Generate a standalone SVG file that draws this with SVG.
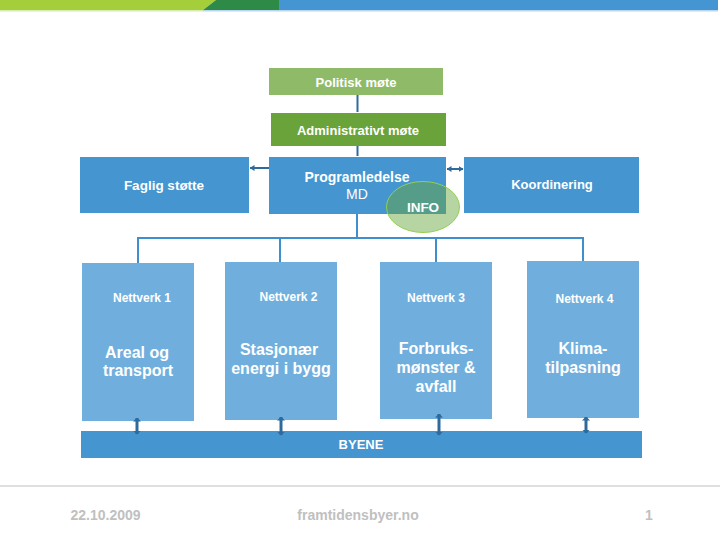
<svg xmlns="http://www.w3.org/2000/svg" width="720" height="540" viewBox="0 0 720 540">
<style>
text{font-family:"Liberation Sans",Arial,sans-serif;fill:#fff;text-anchor:middle}
.b{font-weight:bold}
.blue{fill:#4595d0}
.nw{fill:#70afdd}
.dist{stroke:#3f8fcf;stroke-width:2;fill:none}
.arr{stroke:#2e6a9c;fill:none}
.foot{fill:#c0c0c0;font-weight:bold;font-size:14px}
</style>
<defs>
<marker id="ah" viewBox="0 0 4 8" refX="3.5" refY="4" markerWidth="4" markerHeight="8" markerUnits="userSpaceOnUse" orient="auto-start-reverse">
<path d="M0,0 L4,4 L0,8 z" fill="#2e6a9c"/>
</marker>
<marker id="ahs" viewBox="0 0 5 6" refX="4.5" refY="3" markerWidth="5" markerHeight="6" markerUnits="userSpaceOnUse" orient="auto-start-reverse">
<path d="M0,0 L5,3 L0,6 z" fill="#2e6a9c"/>
</marker>
</defs>
<rect width="720" height="540" fill="#fff"/>
<g id="topbar">
<polygon points="0,0 216,0 203,10 0,10" fill="#a5cf3a"/>
<polygon points="216,0 279,0 279,10 203,10" fill="#2e8b47"/>
<rect x="279" y="0" width="439" height="10" fill="#4495d1"/>
<rect x="0" y="10" width="203" height="1.5" fill="#d6ebb0"/>
<rect x="203" y="10" width="515" height="1.5" fill="#b8d6ee"/>
</g>
<g id="politisk">
<rect x="269" y="68" width="174" height="27" fill="#8fbb68"/>
<text class="b" x="356" y="86.5" font-size="13">Politisk møte</text>
</g>
<g id="administrativt">
<rect x="271" y="113" width="175" height="33" fill="#6aa33a"/>
<text class="b" x="358" y="134.5" font-size="13">Administrativt møte</text>
</g>
<g id="faglig">
<rect class="blue" x="80" y="157" width="169" height="56"/>
<text class="b" x="164" y="190" font-size="13.5">Faglig støtte</text>
</g>
<g id="programledelse">
<rect class="blue" x="269" y="157" width="177" height="57"/>
<text class="b" x="357" y="182" font-size="14">Programledelse</text>
<text x="357" y="199" font-size="14">MD</text>
</g>
<g id="koordinering">
<rect class="blue" x="464" y="157" width="175" height="56"/>
<text class="b" x="552" y="189" font-size="13">Koordinering</text>
</g>
<g id="info">
<ellipse cx="423" cy="207" rx="36.5" ry="25.5" fill="rgb(102,168,61)" fill-opacity="0.48" stroke="#92d050" stroke-width="1"/>
<text class="b" x="423" y="212" font-size="13.5">INFO</text>
</g>
<g id="nettverk1">
<rect class="nw" x="82" y="263" width="112" height="158"/>
<text class="b" x="142" y="302" font-size="12">Nettverk 1</text>
<text class="b" x="137" y="358" font-size="16">Areal og</text>
<text class="b" x="138" y="376" font-size="16">transport</text>
</g>
<g id="nettverk2">
<rect class="nw" x="225" y="262" width="112" height="158"/>
<text class="b" x="288.5" y="301" font-size="12">Nettverk 2</text>
<text class="b" x="279" y="355" font-size="16">Stasjonær</text>
<text class="b" x="281" y="373.5" font-size="16">energi i bygg</text>
</g>
<g id="nettverk3">
<rect class="nw" x="380" y="262" width="112" height="157"/>
<text class="b" x="436" y="302" font-size="12">Nettverk 3</text>
<text class="b" x="436" y="353.5" font-size="16">Forbruks-</text>
<text class="b" x="436" y="372.5" font-size="16">mønster &amp;</text>
<text class="b" x="436" y="391.5" font-size="16">avfall</text>
</g>
<g id="nettverk4">
<rect class="nw" x="527" y="261" width="112" height="157"/>
<text class="b" x="584.5" y="303" font-size="12">Nettverk 4</text>
<text class="b" x="583" y="353.5" font-size="16">Klima-</text>
<text class="b" x="583" y="372.5" font-size="16">tilpasning</text>
</g>
<g id="byene">
<rect class="blue" x="81" y="431" width="561" height="27"/>
<text class="b" x="361" y="449" font-size="13">BYENE</text>
</g>
<g id="connectors">
<line class="arr" x1="357.5" y1="95" x2="357.5" y2="112" stroke-width="2"/>
<line class="arr" x1="357.5" y1="146" x2="357.5" y2="156" stroke-width="2"/>
<line class="arr" x1="250" y1="168" x2="269" y2="168" stroke-width="2" marker-start="url(#ahs)"/>
<line class="arr" x1="447" y1="169" x2="463" y2="169" stroke-width="2" marker-start="url(#ahs)" marker-end="url(#ahs)"/>
<path class="dist" d="M357,214 V238 M138,263 V238 H583 V261 M280,262 V238 M436,262 V238"/>
<line class="arr" x1="137" y1="418" x2="137" y2="434" stroke-width="3" marker-start="url(#ah)" marker-end="url(#ah)"/>
<line class="arr" x1="281" y1="417" x2="281" y2="435" stroke-width="3" marker-start="url(#ah)" marker-end="url(#ah)"/>
<line class="arr" x1="439" y1="414" x2="439" y2="435" stroke-width="3" marker-start="url(#ah)" marker-end="url(#ah)"/>
<line class="arr" x1="586" y1="417" x2="586" y2="433" stroke-width="3" marker-start="url(#ah)" marker-end="url(#ah)"/>
</g>
<g id="footer">
<rect x="0" y="485.5" width="720" height="1" fill="#c0c0c0"/>
<text class="foot" x="105.5" y="520">22.10.2009</text>
<text class="foot" x="358" y="520">framtidensbyer.no</text>
<text class="foot" x="649" y="520">1</text>
</g>
</svg>
